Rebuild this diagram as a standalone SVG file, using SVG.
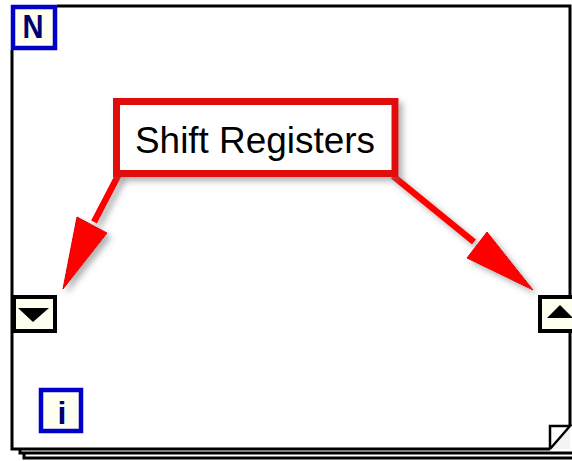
<svg xmlns="http://www.w3.org/2000/svg" width="572" height="461" viewBox="0 0 572 461">
  <defs>
    <filter id="shadow" x="-20%" y="-20%" width="140%" height="140%">
      <feDropShadow dx="4" dy="4" stdDeviation="3" flood-color="#707070" flood-opacity="0.55"/>
    </filter>
    <style>
      .frame { fill: none; stroke: #000; stroke-width: 3; }
      .icon { fill: #fffff0; stroke: #0000c8; stroke-width: 4.5; }
      .icontext { font-family: "Liberation Sans", Arial, sans-serif; fill: #000070; font-weight: bold; text-anchor: middle; }
      .term { fill: #fffff0; stroke: #000; stroke-width: 4; }
      .arrow-shaft { stroke: #ff0000; stroke-width: 6.5; stroke-linecap: butt; fill: none; }
      .arrow-head { fill: #ff0000; stroke: #e00000; stroke-width: 1; stroke-linejoin: miter; }
      .label { font-family: "Liberation Sans", Arial, sans-serif; font-size: 36px; fill: #000; }
    </style>
  </defs>
  <rect width="572" height="461" fill="#ffffff"/>

  <g id="frame">
    <path class="frame" d="M57 6 H570 V426 M12 50 V449 H550"/>
    <path class="frame" d="M20 449 V453 H572"/>
    <path class="frame" d="M24 453 V458 H572"/>
    <g id="corner">
      <polygon points="550,426 570,426 550,449" fill="#ffffff"/>
      <polygon points="570,426 570,449 550,449" fill="#f4f4f4"/>
      <path d="M550 449 V426 H570 L550 449" fill="none" stroke="#000" stroke-width="2.5"/>
    </g>
  </g>

  <g id="n-icon">
    <rect class="icon" x="13" y="7" width="42" height="41"/>
    <text class="icontext" x="33" y="38" font-size="34" textLength="21" lengthAdjust="spacingAndGlyphs">N</text>
  </g>

  <g id="i-icon">
    <rect class="icon" x="41" y="390" width="40" height="41"/>
    <text class="icontext" x="62" y="424" font-size="32">i</text>
  </g>

  <g id="left-register">
    <rect class="term" x="14" y="297" width="41" height="34"/>
    <polygon points="18,308 49,308 33,322" fill="#000"/>
  </g>

  <g id="right-register">
    <rect class="term" x="540" y="297" width="40" height="34"/>
    <polygon points="560,305 547,318 573,318" fill="#000"/>
  </g>

  <g id="connectors" filter="url(#shadow)">
    <line class="arrow-shaft" x1="119" y1="174" x2="94" y2="222"/>
    <polygon class="arrow-head" points="77,217 107,233 63,289"/>
    <line class="arrow-shaft" x1="393" y1="176" x2="474" y2="242"/>
    <polygon class="arrow-head" points="487,232 467,258 533,290"/>
  </g>

  <g id="label-box">
    <rect x="116.5" y="101.5" width="278.5" height="72" fill="#ffffff" stroke="#e01010" stroke-width="7" filter="url(#shadow)"/>
    <text class="label" x="135" y="153" textLength="240" lengthAdjust="spacingAndGlyphs">Shift Registers</text>
  </g>
</svg>
